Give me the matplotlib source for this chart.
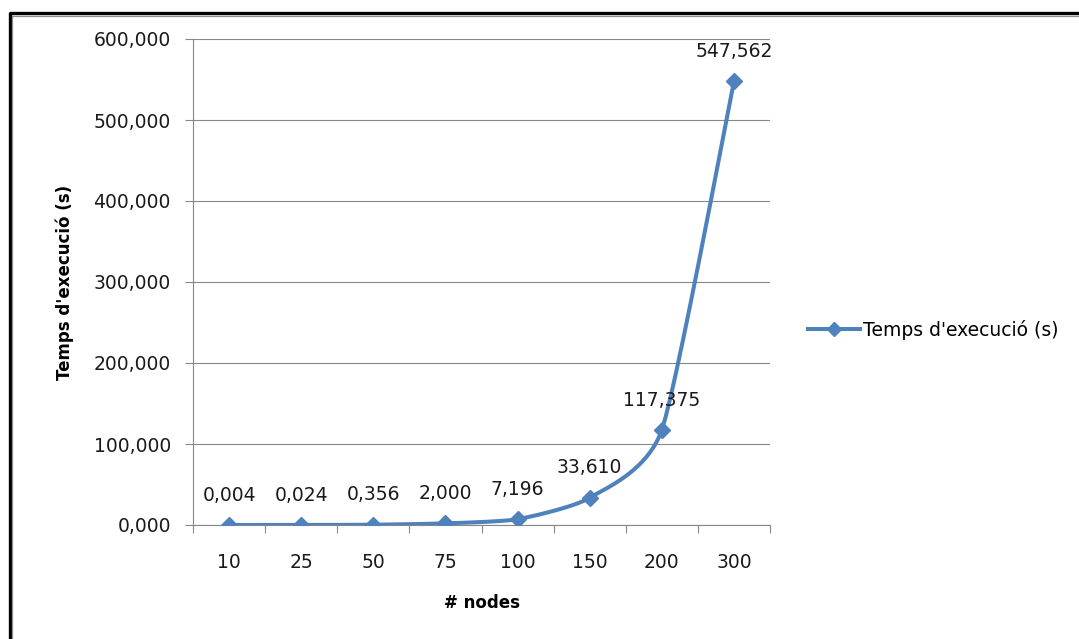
import matplotlib
matplotlib.use("Agg")
import matplotlib.pyplot as plt
from matplotlib.lines import Line2D
from matplotlib.ticker import FixedLocator, FuncFormatter
import numpy as np

# execution time (s) for each network size
nodes = ["10", "25", "50", "75", "100", "150", "200", "300"]
temps = [0.004, 0.024, 0.356, 2.000, 7.196, 33.610, 117.375, 547.562]
y_ticks = [0, 100, 200, 300, 400, 500, 600]

blue = "#4F81BD"
grid_gray = "#878787"


def coma(v):
    # decimal comma, three decimals
    return f"{v:.3f}".replace(".", ",")


def smooth(xs, ys, k=0.45, n=40):
    # cardinal spline through the points (k scales the tangents)
    P = np.column_stack([np.asarray(xs, float), np.asarray(ys, float)])
    P = np.vstack([P[0], P, P[-1]])
    out = []
    for i in range(1, len(P) - 2):
        p0, p1, p2, p3 = P[i - 1], P[i], P[i + 1], P[i + 2]
        m1 = k * (p2 - p0)
        m2 = k * (p3 - p1)
        t = np.linspace(0, 1, n)[:, None]
        h00 = 2 * t**3 - 3 * t**2 + 1
        h10 = t**3 - 2 * t**2 + t
        h01 = -2 * t**3 + 3 * t**2
        h11 = t**3 - t**2
        out.append(h00 * p1 + h10 * m1 + h01 * p2 + h11 * m2)
    out = np.vstack(out)
    return out[:, 0], out[:, 1]


fig = plt.figure(figsize=(10.79, 6.39), dpi=100)
ax = fig.add_axes([193 / 1079, 1 - 525 / 639, 577 / 1079, 486 / 639])

x = np.arange(len(nodes))
# smooth in screen proportions (72 px per category, 0.81 px per second)
sx, sy = smooth(x * 72.0, np.array(temps) * 0.81, k=0.3)
ax.plot(sx / 72.0, sy / 0.81, color=blue, lw=2.9, solid_capstyle="round",
        zorder=3)
ax.plot(x, temps, ls="none", marker="D", ms=8.5, color=blue, zorder=4)

for xi, v in zip(x, temps):
    ax.annotate(coma(v), (xi, v), xytext=(0, 21.5), textcoords="offset points",
                ha="center", va="center", fontsize=13.5, color="#1a1a1a")

ax.set_xlim(-0.5, len(nodes) - 0.5)
ax.set_ylim(0, 600)
ax.yaxis.set_major_locator(FixedLocator(y_ticks))
ax.yaxis.set_major_formatter(FuncFormatter(lambda v, p: coma(v)))
ax.grid(axis="y", color=grid_gray, lw=0.8)
ax.set_axisbelow(True)

# tick marks between categories, labels in the middle
ax.xaxis.set_major_locator(FixedLocator(np.arange(len(nodes) + 1) - 0.5))
ax.xaxis.set_major_formatter(FuncFormatter(lambda v, p: ""))
ax.xaxis.set_minor_locator(FixedLocator(x))
ax.set_xticklabels(nodes, minor=True)
ax.tick_params(axis="x", which="major", length=6, color=grid_gray, width=0.8)
ax.tick_params(axis="x", which="minor", length=0, pad=20, labelsize=13.5,
               labelcolor="#1a1a1a")
ax.tick_params(axis="y", length=6, color=grid_gray, width=0.8, pad=10,
               labelsize=13.5, labelcolor="#1a1a1a")

for s in ["top", "right"]:
    ax.spines[s].set_visible(False)
for s in ["left", "bottom"]:
    ax.spines[s].set_color(grid_gray)
    ax.spines[s].set_linewidth(0.8)

ax.set_xlabel("# nodes", fontsize=12, fontweight="bold", labelpad=16)
ax.set_ylabel("Temps d'execució (s)", fontsize=12, fontweight="bold",
              labelpad=14)

handle = Line2D([], [], color=blue, lw=2.9, marker="D", ms=7)
fig.legend([handle], ["Temps d'execució (s)"], loc="center left",
           bbox_to_anchor=(791 / 1079, 1 - 330 / 639), frameon=False,
           fontsize=13.5, handlelength=2.8, handletextpad=0.15)

# double frame around the chart
W, H = 1079, 639
fig.add_artist(Line2D([9.5 / W, 9.5 / W, 1.01], [-0.01, 1 - 13 / H, 1 - 13 / H],
                      transform=fig.transFigure, color="black", lw=2.4))
fig.add_artist(Line2D([12 / W, 12 / W, 1.01], [-0.01, 1 - 15.5 / H, 1 - 15.5 / H],
                      transform=fig.transFigure, color="#8c8c8c", lw=0.9))

fig.savefig("out.png", dpi=100)
